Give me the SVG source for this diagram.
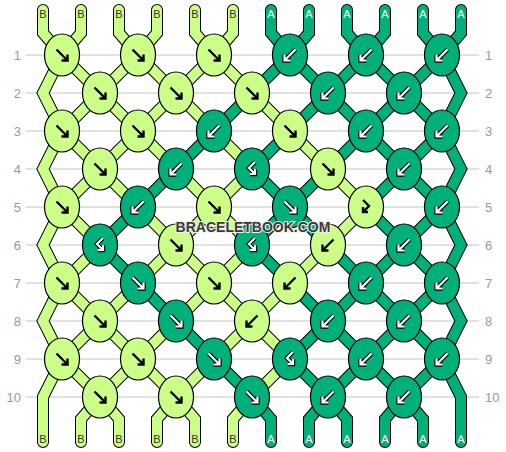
<svg xmlns="http://www.w3.org/2000/svg" xmlns:xlink="http://www.w3.org/1999/xlink" width="506" height="452" viewBox="0 0 506 452">
<style>
.grid{stroke:#c4c4c4;stroke-width:1}
.rl{font-family:"Liberation Sans",Arial,sans-serif;font-size:13px;fill:#999}
.ol{fill:none;stroke:#000;stroke-width:12;stroke-linejoin:miter;stroke-linecap:round}
.tb{fill:none;stroke:#ccff88;stroke-width:10;stroke-linejoin:miter;stroke-linecap:round}
.ta{fill:none;stroke:#00b07b;stroke-width:10;stroke-linejoin:miter;stroke-linecap:round}
.kb{fill:#ccff88;stroke:#000;stroke-width:1.2}
.ka{fill:#00b07b;stroke:#000;stroke-width:1.2}
.sl{font-family:"Liberation Sans",Arial,sans-serif;font-size:11px;text-anchor:middle}
.slb{fill:#333}
.sla{fill:#fff}
.ab{fill:none;stroke:#000;stroke-width:2.4;stroke-linejoin:miter}
.aw{fill:none;stroke:#fff;stroke-width:2.2;stroke-linejoin:miter}
.awo{fill:none;stroke:#000;stroke-width:4.4;stroke-linejoin:miter}
.wm{font-family:"Liberation Sans",Arial,sans-serif;font-size:14px;font-weight:bold;fill:#3a3a3a;stroke:#eeeeee;stroke-width:2;paint-order:stroke;text-anchor:middle}
</style>
<defs>
<path id="f" d="M-5.5,-5.5L5.5,5.5M5.5,-0.5V5.5H-0.5"/>
<path id="b" d="M5.5,-5.5L-5.5,5.5M-5.5,-0.5V5.5H0.5"/>
<path id="fb" d="M-3,-7L3,-1L-3,5M-3,0V5H2"/>
<path id="bf" d="M3,-7L-3,-1L3,5M3,0V5H-2"/>
</defs>
<rect width="506" height="452" fill="#fff"/>
<g id="grid">
<path class="grid" d="M26,55H479M26,93H479M26,131H479M26,169H479M26,207H479M26,245H479M26,283H479M26,321H479M26,359H479M26,397H479"/>
<g class="rl" text-anchor="end">
<text x="21" y="60">1</text><text x="21" y="98">2</text><text x="21" y="136">3</text><text x="21" y="174">4</text><text x="21" y="212">5</text><text x="21" y="250">6</text><text x="21" y="288">7</text><text x="21" y="326">8</text><text x="21" y="364">9</text><text x="21" y="402">10</text>
</g>
<g class="rl" text-anchor="start">
<text x="485" y="60">1</text><text x="485" y="98">2</text><text x="485" y="136">3</text><text x="485" y="174">4</text><text x="485" y="212">5</text><text x="485" y="250">6</text><text x="485" y="288">7</text><text x="485" y="326">8</text><text x="485" y="364">9</text><text x="485" y="402">10</text>
</g>
</g>
<g id="connectors">
<path class="ol" d="M43,10V33L62,55M81,10V33L62,55M119,10V33L138,55M157,10V33L138,55M195,10V33L214,55M233,10V33L214,55M271,10V33L290,55M309,10V33L290,55M347,10V33L366,55M385,10V33L366,55M423,10V33L442,55M461,10V33L442,55
M62,55L43,93L62,131M62,55L100,93M138,55L100,93M138,55L176,93M214,55L176,93M214,55L252,93M290,55L252,93M290,55L328,93M366,55L328,93M366,55L404,93M442,55L404,93M442,55L461,93L442,131
M100,93L62,131M100,93L138,131M176,93L138,131M176,93L214,131M252,93L214,131M252,93L290,131M328,93L290,131M328,93L366,131M404,93L366,131M404,93L442,131
M62,131L43,169L62,207M62,131L100,169M138,131L100,169M138,131L176,169M214,131L176,169M214,131L252,169M290,131L252,169M290,131L328,169M366,131L328,169M366,131L404,169M442,131L404,169M442,131L461,169L442,207
M100,169L62,207M100,169L138,207M176,169L138,207M176,169L214,207M252,169L214,207M252,169L290,207M328,169L290,207M328,169L366,207M404,169L366,207M404,169L442,207
M62,207L43,245L62,283M62,207L100,245M138,207L100,245M138,207L176,245M214,207L176,245M214,207L252,245M290,207L252,245M290,207L328,245M366,207L328,245M366,207L404,245M442,207L404,245M442,207L461,245L442,283
M100,245L62,283M100,245L138,283M176,245L138,283M176,245L214,283M252,245L214,283M252,245L290,283M328,245L290,283M328,245L366,283M404,245L366,283M404,245L442,283
M62,283L43,321L62,359M62,283L100,321M138,283L100,321M138,283L176,321M214,283L176,321M214,283L252,321M290,283L252,321M290,283L328,321M366,283L328,321M366,283L404,321M442,283L404,321M442,283L461,321L442,359
M100,321L62,359M100,321L138,359M176,321L138,359M176,321L214,359M252,321L214,359M252,321L290,359M328,321L290,359M328,321L366,359M404,321L366,359M404,321L442,359
M62,359L43,397V442M62,359L100,397M138,359L100,397M138,359L176,397M214,359L176,397M214,359L252,397M290,359L252,397M290,359L328,397M366,359L328,397M366,359L404,397M442,359L404,397M442,359L461,397V442
M100,397L81,419V442M100,397L119,419V442M176,397L157,419V442M176,397L195,419V442M252,397L233,419V442M252,397L271,419V442M328,397L309,419V442M328,397L347,419V442M404,397L385,419V442M404,397L423,419V442"/>
<path class="tb" d="M43,10V33L62,55M81,10V33L62,55M119,10V33L138,55M157,10V33L138,55M195,10V33L214,55M233,10V33L214,55
M62,55L43,93L62,131M62,55L100,93M138,55L100,93M138,55L176,93M214,55L176,93M214,55L252,93
M100,93L62,131M100,93L138,131M176,93L138,131M176,93L214,131M252,93L290,131
M62,131L43,169L62,207M62,131L100,169M138,131L100,169M138,131L176,169M214,131L252,169M290,131L328,169
M100,169L62,207M100,169L138,207M176,169L214,207M252,169L214,207M328,169L366,207
M62,207L43,245L62,283M62,207L100,245M138,207L176,245M214,207L176,245M214,207L252,245M366,207L328,245
M100,245L62,283M176,245L138,283M176,245L214,283M252,245L214,283M328,245L290,283
M62,283L43,321L62,359M62,283L100,321M138,283L100,321M214,283L176,321M214,283L252,321M290,283L252,321
M100,321L62,359M100,321L138,359M176,321L138,359M252,321L214,359M252,321L290,359
M62,359L43,397V442M62,359L100,397M138,359L100,397M138,359L176,397M214,359L176,397M290,359L252,397
M100,397L81,419V442M100,397L119,419V442M176,397L157,419V442M176,397L195,419V442M252,397L233,419V442"/>
<path class="ta" d="M271,10V33L290,55M309,10V33L290,55M347,10V33L366,55M385,10V33L366,55M423,10V33L442,55M461,10V33L442,55
M290,55L252,93M290,55L328,93M366,55L328,93M366,55L404,93M442,55L404,93M442,55L461,93L442,131
M252,93L214,131M328,93L290,131M328,93L366,131M404,93L366,131M404,93L442,131
M214,131L176,169M290,131L252,169M366,131L328,169M366,131L404,169M442,131L404,169M442,131L461,169L442,207
M176,169L138,207M252,169L290,207M328,169L290,207M404,169L366,207M404,169L442,207
M138,207L100,245M290,207L252,245M290,207L328,245M366,207L404,245M442,207L404,245M442,207L461,245L442,283
M100,245L138,283M252,245L290,283M328,245L366,283M404,245L366,283M404,245L442,283
M138,283L176,321M290,283L328,321M366,283L328,321M366,283L404,321M442,283L404,321M442,283L461,321L442,359
M176,321L214,359M328,321L290,359M328,321L366,359M404,321L366,359M404,321L442,359
M214,359L252,397M290,359L328,397M366,359L328,397M366,359L404,397M442,359L404,397M442,359L461,397V442
M252,397L271,419V442M328,397L309,419V442M328,397L347,419V442M404,397L385,419V442M404,397L423,419V442"/>
</g>
<g id="strand-labels" class="sl">
<g class="slb"><text x="43" y="18">B</text><text x="81" y="18">B</text><text x="119" y="18">B</text><text x="157" y="18">B</text><text x="195" y="18">B</text><text x="233" y="18">B</text>
<text x="43" y="443">B</text><text x="81" y="443">B</text><text x="119" y="443">B</text><text x="157" y="443">B</text><text x="195" y="443">B</text><text x="233" y="443">B</text></g>
<g class="sla"><text x="271" y="18">A</text><text x="309" y="18">A</text><text x="347" y="18">A</text><text x="385" y="18">A</text><text x="423" y="18">A</text><text x="461" y="18">A</text>
<text x="271" y="443">A</text><text x="309" y="443">A</text><text x="347" y="443">A</text><text x="385" y="443">A</text><text x="423" y="443">A</text><text x="461" y="443">A</text></g>
</g>
<g id="knot-1-1"><ellipse class="kb" cx="62" cy="55" rx="17.5" ry="21"/><use href="#f" x="62" y="55" class="ab"/></g>
<g id="knot-1-2"><ellipse class="kb" cx="138" cy="55" rx="17.5" ry="21"/><use href="#f" x="138" y="55" class="ab"/></g>
<g id="knot-1-3"><ellipse class="kb" cx="214" cy="55" rx="17.5" ry="21"/><use href="#f" x="214" y="55" class="ab"/></g>
<g id="knot-1-4"><ellipse class="ka" cx="290" cy="55" rx="17.5" ry="21"/><use href="#b" x="290" y="55" class="awo"/><use href="#b" x="290" y="55" class="aw"/></g>
<g id="knot-1-5"><ellipse class="ka" cx="366" cy="55" rx="17.5" ry="21"/><use href="#b" x="366" y="55" class="awo"/><use href="#b" x="366" y="55" class="aw"/></g>
<g id="knot-1-6"><ellipse class="ka" cx="442" cy="55" rx="17.5" ry="21"/><use href="#b" x="442" y="55" class="awo"/><use href="#b" x="442" y="55" class="aw"/></g>
<g id="knot-2-1"><ellipse class="kb" cx="100" cy="93" rx="17.5" ry="21"/><use href="#f" x="100" y="93" class="ab"/></g>
<g id="knot-2-2"><ellipse class="kb" cx="176" cy="93" rx="17.5" ry="21"/><use href="#f" x="176" y="93" class="ab"/></g>
<g id="knot-2-3"><ellipse class="kb" cx="252" cy="93" rx="17.5" ry="21"/><use href="#f" x="252" y="93" class="ab"/></g>
<g id="knot-2-4"><ellipse class="ka" cx="328" cy="93" rx="17.5" ry="21"/><use href="#b" x="328" y="93" class="awo"/><use href="#b" x="328" y="93" class="aw"/></g>
<g id="knot-2-5"><ellipse class="ka" cx="404" cy="93" rx="17.5" ry="21"/><use href="#b" x="404" y="93" class="awo"/><use href="#b" x="404" y="93" class="aw"/></g>
<g id="knot-3-1"><ellipse class="kb" cx="62" cy="131" rx="17.5" ry="21"/><use href="#f" x="62" y="131" class="ab"/></g>
<g id="knot-3-2"><ellipse class="kb" cx="138" cy="131" rx="17.5" ry="21"/><use href="#f" x="138" y="131" class="ab"/></g>
<g id="knot-3-3"><ellipse class="ka" cx="214" cy="131" rx="17.5" ry="21"/><use href="#b" x="214" y="131" class="awo"/><use href="#b" x="214" y="131" class="aw"/></g>
<g id="knot-3-4"><ellipse class="kb" cx="290" cy="131" rx="17.5" ry="21"/><use href="#f" x="290" y="131" class="ab"/></g>
<g id="knot-3-5"><ellipse class="ka" cx="366" cy="131" rx="17.5" ry="21"/><use href="#b" x="366" y="131" class="awo"/><use href="#b" x="366" y="131" class="aw"/></g>
<g id="knot-3-6"><ellipse class="ka" cx="442" cy="131" rx="17.5" ry="21"/><use href="#b" x="442" y="131" class="awo"/><use href="#b" x="442" y="131" class="aw"/></g>
<g id="knot-4-1"><ellipse class="kb" cx="100" cy="169" rx="17.5" ry="21"/><use href="#f" x="100" y="169" class="ab"/></g>
<g id="knot-4-2"><ellipse class="ka" cx="176" cy="169" rx="17.5" ry="21"/><use href="#b" x="176" y="169" class="awo"/><use href="#b" x="176" y="169" class="aw"/></g>
<g id="knot-4-3"><ellipse class="ka" cx="252" cy="169" rx="17.5" ry="21"/><use href="#bf" x="252" y="169" class="awo"/><use href="#bf" x="252" y="169" class="aw"/></g>
<g id="knot-4-4"><ellipse class="kb" cx="328" cy="169" rx="17.5" ry="21"/><use href="#f" x="328" y="169" class="ab"/></g>
<g id="knot-4-5"><ellipse class="ka" cx="404" cy="169" rx="17.5" ry="21"/><use href="#b" x="404" y="169" class="awo"/><use href="#b" x="404" y="169" class="aw"/></g>
<g id="knot-5-1"><ellipse class="kb" cx="62" cy="207" rx="17.5" ry="21"/><use href="#f" x="62" y="207" class="ab"/></g>
<g id="knot-5-2"><ellipse class="ka" cx="138" cy="207" rx="17.5" ry="21"/><use href="#b" x="138" y="207" class="awo"/><use href="#b" x="138" y="207" class="aw"/></g>
<g id="knot-5-3"><ellipse class="kb" cx="214" cy="207" rx="17.5" ry="21"/><use href="#f" x="214" y="207" class="ab"/></g>
<g id="knot-5-4"><ellipse class="ka" cx="290" cy="207" rx="17.5" ry="21"/><use href="#f" x="290" y="207" class="awo"/><use href="#f" x="290" y="207" class="aw"/></g>
<g id="knot-5-5"><ellipse class="kb" cx="366" cy="207" rx="17.5" ry="21"/><use href="#fb" x="366" y="207" class="ab"/></g>
<g id="knot-5-6"><ellipse class="ka" cx="442" cy="207" rx="17.5" ry="21"/><use href="#b" x="442" y="207" class="awo"/><use href="#b" x="442" y="207" class="aw"/></g>
<g id="knot-6-1"><ellipse class="ka" cx="100" cy="245" rx="17.5" ry="21"/><use href="#bf" x="100" y="245" class="awo"/><use href="#bf" x="100" y="245" class="aw"/></g>
<g id="knot-6-2"><ellipse class="kb" cx="176" cy="245" rx="17.5" ry="21"/><use href="#f" x="176" y="245" class="ab"/></g>
<g id="knot-6-3"><ellipse class="ka" cx="252" cy="245" rx="17.5" ry="21"/><use href="#bf" x="252" y="245" class="awo"/><use href="#bf" x="252" y="245" class="aw"/></g>
<g id="knot-6-4"><ellipse class="kb" cx="328" cy="245" rx="17.5" ry="21"/><use href="#b" x="328" y="245" class="ab"/></g>
<g id="knot-6-5"><ellipse class="ka" cx="404" cy="245" rx="17.5" ry="21"/><use href="#b" x="404" y="245" class="awo"/><use href="#b" x="404" y="245" class="aw"/></g>
<g id="knot-7-1"><ellipse class="kb" cx="62" cy="283" rx="17.5" ry="21"/><use href="#f" x="62" y="283" class="ab"/></g>
<g id="knot-7-2"><ellipse class="ka" cx="138" cy="283" rx="17.5" ry="21"/><use href="#f" x="138" y="283" class="awo"/><use href="#f" x="138" y="283" class="aw"/></g>
<g id="knot-7-3"><ellipse class="kb" cx="214" cy="283" rx="17.5" ry="21"/><use href="#f" x="214" y="283" class="ab"/></g>
<g id="knot-7-4"><ellipse class="kb" cx="290" cy="283" rx="17.5" ry="21"/><use href="#b" x="290" y="283" class="ab"/></g>
<g id="knot-7-5"><ellipse class="ka" cx="366" cy="283" rx="17.5" ry="21"/><use href="#b" x="366" y="283" class="awo"/><use href="#b" x="366" y="283" class="aw"/></g>
<g id="knot-7-6"><ellipse class="ka" cx="442" cy="283" rx="17.5" ry="21"/><use href="#b" x="442" y="283" class="awo"/><use href="#b" x="442" y="283" class="aw"/></g>
<g id="knot-8-1"><ellipse class="kb" cx="100" cy="321" rx="17.5" ry="21"/><use href="#f" x="100" y="321" class="ab"/></g>
<g id="knot-8-2"><ellipse class="ka" cx="176" cy="321" rx="17.5" ry="21"/><use href="#f" x="176" y="321" class="awo"/><use href="#f" x="176" y="321" class="aw"/></g>
<g id="knot-8-3"><ellipse class="kb" cx="252" cy="321" rx="17.5" ry="21"/><use href="#b" x="252" y="321" class="ab"/></g>
<g id="knot-8-4"><ellipse class="ka" cx="328" cy="321" rx="17.5" ry="21"/><use href="#b" x="328" y="321" class="awo"/><use href="#b" x="328" y="321" class="aw"/></g>
<g id="knot-8-5"><ellipse class="ka" cx="404" cy="321" rx="17.5" ry="21"/><use href="#b" x="404" y="321" class="awo"/><use href="#b" x="404" y="321" class="aw"/></g>
<g id="knot-9-1"><ellipse class="kb" cx="62" cy="359" rx="17.5" ry="21"/><use href="#f" x="62" y="359" class="ab"/></g>
<g id="knot-9-2"><ellipse class="kb" cx="138" cy="359" rx="17.5" ry="21"/><use href="#f" x="138" y="359" class="ab"/></g>
<g id="knot-9-3"><ellipse class="ka" cx="214" cy="359" rx="17.5" ry="21"/><use href="#f" x="214" y="359" class="awo"/><use href="#f" x="214" y="359" class="aw"/></g>
<g id="knot-9-4"><ellipse class="ka" cx="290" cy="359" rx="17.5" ry="21"/><use href="#bf" x="290" y="359" class="awo"/><use href="#bf" x="290" y="359" class="aw"/></g>
<g id="knot-9-5"><ellipse class="ka" cx="366" cy="359" rx="17.5" ry="21"/><use href="#b" x="366" y="359" class="awo"/><use href="#b" x="366" y="359" class="aw"/></g>
<g id="knot-9-6"><ellipse class="ka" cx="442" cy="359" rx="17.5" ry="21"/><use href="#b" x="442" y="359" class="awo"/><use href="#b" x="442" y="359" class="aw"/></g>
<g id="knot-10-1"><ellipse class="kb" cx="100" cy="397" rx="17.5" ry="21"/><use href="#f" x="100" y="397" class="ab"/></g>
<g id="knot-10-2"><ellipse class="kb" cx="176" cy="397" rx="17.5" ry="21"/><use href="#f" x="176" y="397" class="ab"/></g>
<g id="knot-10-3"><ellipse class="ka" cx="252" cy="397" rx="17.5" ry="21"/><use href="#f" x="252" y="397" class="awo"/><use href="#f" x="252" y="397" class="aw"/></g>
<g id="knot-10-4"><ellipse class="ka" cx="328" cy="397" rx="17.5" ry="21"/><use href="#b" x="328" y="397" class="awo"/><use href="#b" x="328" y="397" class="aw"/></g>
<g id="knot-10-5"><ellipse class="ka" cx="404" cy="397" rx="17.5" ry="21"/><use href="#b" x="404" y="397" class="awo"/><use href="#b" x="404" y="397" class="aw"/></g>
<text class="wm" x="253" y="232">BRACELETBOOK.COM</text>
</svg>
